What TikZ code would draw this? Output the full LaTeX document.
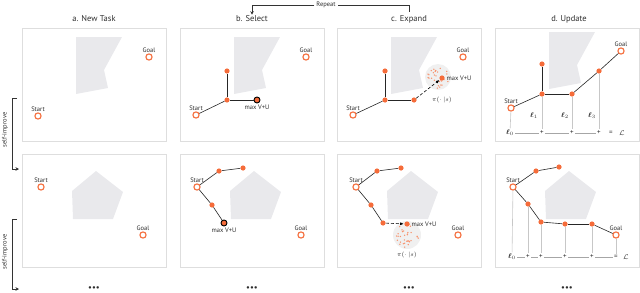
\documentclass[tikz,border=0pt]{standalone}
\usepackage{fontspec}
\setmainfont{PT Sans}
\usepackage{amsmath}
\usetikzlibrary{arrows.meta}
\definecolor{pOrange}{RGB}{245,108,58}
\definecolor{pWall}{RGB}{233,233,236}
\definecolor{pFrame}{RGB}{222,222,222}
\definecolor{pText}{RGB}{45,45,45}
\tikzset{
  title/.style={font={\fontsize{8.5}{10}\selectfont}, text=pText, inner sep=1pt},
  tag/.style={font={\fontsize{6.5}{7.5}\selectfont}, text=pText, inner sep=1pt},
  panelbox/.style={draw=pFrame, line width=0.8pt},
  wall/.style={fill=pWall, draw=none},
  state/.style={circle, fill=pOrange, inner sep=0pt, minimum size=5.2pt},
  endpoint/.style={circle, draw=pOrange, fill=white, line width=1.1pt, inner sep=0pt, minimum size=6.2pt, label distance=0.5pt},
  best/.style={circle, draw=black, fill=pOrange, line width=0.9pt, inner sep=0pt, minimum size=6pt},
  edge/.style={draw=black!85, line width=0.6pt},
  tryarrow/.style={draw=black, line width=0.6pt, densely dashed, -{Latex[length=3.5pt,width=3pt]}, shorten >=0.5pt},
  loopline/.style={draw=black!80, line width=0.6pt},
  looptip/.style={-{Stealth[length=3.5pt,width=3.5pt]}},
  cloud/.style={fill=black!6},
  cloudDot/.style={fill=pOrange!75},
  dropline/.style={draw=black!22, line width=0.6pt},
  sumline/.style={draw=black!35, line width=0.3pt},
  sumtag/.style={font={\fontsize{7}{8}\selectfont}, text=pText, inner sep=1.5pt},
}

\begin{document}
\begin{tikzpicture}[x=1pt,y=-1pt]
\useasboundingbox (0,0) rectangle (640,292);
\pgfmathsetseed{11}
% column titles
\node[title] (tA) at (94,19) {a. New Task};
\node[title] (tB) at (252,19) {b. Select};
\node[title] (tC) at (409,19) {c. Expand};
\node[title] (tD) at (569,19) {d. Update};
% repeat loop between c and b
\node[tag, fill=white, inner sep=2pt] (rep) at (326,5) {Repeat};
\draw[loopline] ([yshift=2pt]tC.north) |- (rep.east);
\draw[loopline, looptip] (rep.west) -| (tB.north);
% self-improve brackets
\coordinate (si1a) at (17,98);
\coordinate (si1b) at (19,169);
\coordinate (si2a) at (17,219);
\coordinate (si2b) at (19,289);
\draw[loopline, looptip] (si1a) -- ++(-5,0) |- (si1b);
\draw[loopline, looptip] (si2a) -- ++(-5,0) |- (si2b);
\node[tag, rotate=90] (si1) at (5,130) {self-improve};
\node[tag, rotate=90] (si2) at (5,252) {self-improve};
% frames and obstacles
\foreach \px in {22,180,337,495}{
  \foreach \py in {28,154}{
    \draw[panelbox] (\px,\py) rectangle ++(144,113);
  }
  \fill[wall, shift={(\px,154)}] (74,17) -- (101,38) -- (91,65) -- (51,65) -- (50,37) -- cycle;
}
\foreach \px in {22,180,337}{
  \fill[wall, shift={(\px,28)}] (54,9) -- (100,9) -- (82,42) -- (86,60) -- (54,66) -- cycle;
}
\fill[wall, shift={(495,23)}] (54,9) -- (100,9) -- (82,42) -- (86,60) -- (54,66) -- cycle;

%% row 1
% a. new task
\begin{scope}[shift={(22,28)}]
\node[endpoint, label={[tag]above:Start}] (a1S) at (16,88) {};
\node[endpoint, label={[tag]above:Goal}] (a1G) at (127,29) {};
\end{scope}
% b. select
\begin{scope}[shift={(180,28)}]
\node[endpoint, label={[tag]above:Start}] (b1S) at (16,87) {};
\node[endpoint, label={[tag]above:Goal}] (b1G) at (126,29) {};
\node[state] (b1J) at (47,72) {};
\node[state] (b1U) at (47,43) {};
\node[best, label={[tag, label distance=0.5pt]below:max V+U}] (b1M) at (77,72) {};
\draw[edge] (b1S) -- (b1J);
\draw[edge] (b1J) -- (b1U);
\draw[edge] (b1J) -- (b1M);
\end{scope}
% c. expand
\begin{scope}[shift={(337,28)}]
\coordinate (c1C) at (101,49);
\fill[cloud] (c1C) circle (13);
\foreach \k in {1,...,30}{
  \pgfmathsetmacro{\rr}{11.5*sqrt(rnd)}
  \pgfmathsetmacro{\aa}{360*rnd}
  \fill[cloudDot] (c1C) ++(\aa:\rr) circle (0.75);
}
\node[endpoint, label={[tag]above:Start}] (c1S) at (16,87) {};
\node[endpoint, label={[tag]above:Goal}] (c1G) at (126,29) {};
\node[state] (c1J) at (48,72) {};
\node[state] (c1U) at (48,43) {};
\node[state] (c1R) at (77,72) {};
\node[state, label={[tag, label distance=0.5pt]right:max V+U}] (c1N) at (105,50) {};
\node[tag] (c1P) at (105,72) {$\pi(\cdot\,|s)$};
\draw[edge] (c1S) -- (c1J);
\draw[edge] (c1J) -- (c1U);
\draw[edge] (c1J) -- (c1R);
\draw[tryarrow] (c1R) -- (c1N);
\end{scope}
% d. update
\begin{scope}[shift={(495,28)}]
\node[endpoint, label={[tag]above:Start}] (d1S) at (16,80) {};
\node[endpoint, label={[tag]above:Goal}] (d1G) at (126,23) {};
\node[state] (d1J) at (47,66) {};
\node[state] (d1U) at (47,36) {};
\node[state] (d1R) at (77,66) {};
\node[state] (d1N) at (104,43) {};
\node[sumtag] (d1l0) at (15,105) {$\boldsymbol{\ell}_0$};
\node[sumtag] (d1p1) at (47,105) {+};
\node[sumtag] (d1p2) at (77,105) {+};
\node[sumtag] (d1p3) at (104,105) {+};
\node[sumtag] (d1eq) at (116,105) {=};
\node[sumtag] (d1L) at (127,105) {$\mathcal{L}$};
\node[sumtag] (d1l1) at (39,88) {$\boldsymbol{\ell}_1$};
\node[sumtag] (d1l2) at (70,88) {$\boldsymbol{\ell}_2$};
\node[sumtag] (d1l3) at (97,88) {$\boldsymbol{\ell}_3$};
\draw[dropline] (d1S) -- (d1l0);
\draw[dropline] (d1J) -- (d1p1);
\draw[dropline] (d1R) -- (d1p2);
\draw[dropline] (d1N) -- (d1p3);
\draw[sumline] (d1l0) -- (d1p1);
\draw[sumline] (d1p1) -- (d1p2);
\draw[sumline] (d1p2) -- (d1p3);
\draw[edge] (d1S) -- (d1J);
\draw[edge] (d1J) -- (d1U);
\draw[edge] (d1J) -- (d1R);
\draw[edge] (d1R) -- (d1N);
\draw[edge] (d1N) -- (d1G);
\end{scope}

%% row 2
% a. new task
\begin{scope}[shift={(22,154)}]
\node[endpoint, label={[tag]above:Start}] (a2S) at (19,33) {};
\node[endpoint, label={[tag]above:Goal}] (a2G) at (121,81) {};
\end{scope}
% b. select
\begin{scope}[shift={(180,154)}]
\node[endpoint, label={[tag]above:Start}] (b2S) at (17,33) {};
\node[endpoint, label={[tag]above:Goal}] (b2G) at (121,81) {};
\node[state] (b2U1) at (39,17) {};
\node[state] (b2U2) at (63,14) {};
\node[state] (b2D1) at (32,51) {};
\node[best, label={[tag, label distance=0.5pt]below:max V+U}] (b2M) at (44,69) {};
\draw[edge] (b2S) -- (b2U1);
\draw[edge] (b2U1) -- (b2U2);
\draw[edge] (b2S) -- (b2D1);
\draw[edge] (b2D1) -- (b2M);
\end{scope}
% c. expand
\begin{scope}[shift={(337,154)}]
\coordinate (c2C) at (70,81);
\fill[cloud] (c2C) circle (14);
\foreach \k in {1,...,32}{
  \pgfmathsetmacro{\rr}{12.5*sqrt(rnd)}
  \pgfmathsetmacro{\aa}{360*rnd}
  \fill[cloudDot] (c2C) ++(\aa:\rr) circle (0.75);
}
\node[endpoint, label={[tag]above:Start}] (c2S) at (19,33) {};
\node[endpoint, label={[tag]above:Goal}] (c2G) at (121,81) {};
\node[state] (c2U1) at (40,17) {};
\node[state] (c2U2) at (64,14) {};
\node[state] (c2D1) at (34,51) {};
\node[state] (c2D2) at (46,69) {};
\node[state, label={[tag, label distance=0.5pt]right:max V+U}] (c2N) at (70,70) {};
\node[tag] (c2P) at (70,101) {$\pi(\cdot\,|s)$};
\draw[edge] (c2S) -- (c2U1);
\draw[edge] (c2U1) -- (c2U2);
\draw[edge] (c2S) -- (c2D1);
\draw[edge] (c2D1) -- (c2D2);
\draw[tryarrow] (c2D2) -- (c2N);
\end{scope}
% d. update
\begin{scope}[shift={(495,154)}]
\node[endpoint, label={[tag]above:Start}] (d2S) at (18,33) {};
\node[endpoint, label={[tag]above:Goal}] (d2G) at (121,81) {};
\node[state] (d2U1) at (41,17) {};
\node[state] (d2U2) at (64,13) {};
\node[state] (d2D1) at (33,50) {};
\node[state] (d2D2) at (46,68) {};
\node[state] (d2N1) at (70,70) {};
\node[state] (d2N2) at (97,70) {};
\node[sumtag] (d2l0) at (17,103) {$\boldsymbol{\ell}_0$};
\node[sumtag] (d2p1) at (33,103) {+};
\node[sumtag] (d2p2) at (46,103) {+};
\node[sumtag] (d2p3) at (70,103) {+};
\node[sumtag] (d2p4) at (97,103) {+};
\node[sumtag] (d2eq) at (121,103) {=};
\node[sumtag] (d2L) at (131,103) {$\mathcal{L}$};
\draw[dropline] (d2S) -- (d2l0);
\draw[dropline] (d2D1) -- (d2p1);
\draw[dropline] (d2D2) -- (d2p2);
\draw[dropline] (d2N1) -- (d2p3);
\draw[dropline] (d2N2) -- (d2p4);
\draw[dropline] (d2G) -- (d2eq);
\draw[sumline] (d2l0) -- (d2p1);
\draw[sumline] (d2p1) -- (d2p2);
\draw[sumline] (d2p2) -- (d2p3);
\draw[sumline] (d2p3) -- (d2p4);
\draw[sumline] (d2p4) -- (d2eq);
\draw[edge] (d2S) -- (d2U1);
\draw[edge] (d2U1) -- (d2U2);
\draw[edge] (d2S) -- (d2D1);
\draw[edge] (d2D1) -- (d2D2);
\draw[edge] (d2D2) -- (d2N1);
\draw[edge] (d2N1) -- (d2N2);
\draw[edge] (d2N2) -- (d2G);
\end{scope}

% continuation marks
\node[title] (mA) at (94,289) {\textbullet\textbullet\textbullet};
\node[title] (mB) at (252,289) {\textbullet\textbullet\textbullet};
\node[title] (mC) at (409,289) {\textbullet\textbullet\textbullet};
\node[title] (mD) at (567,289) {\textbullet\textbullet\textbullet};
\end{tikzpicture}
\end{document}
